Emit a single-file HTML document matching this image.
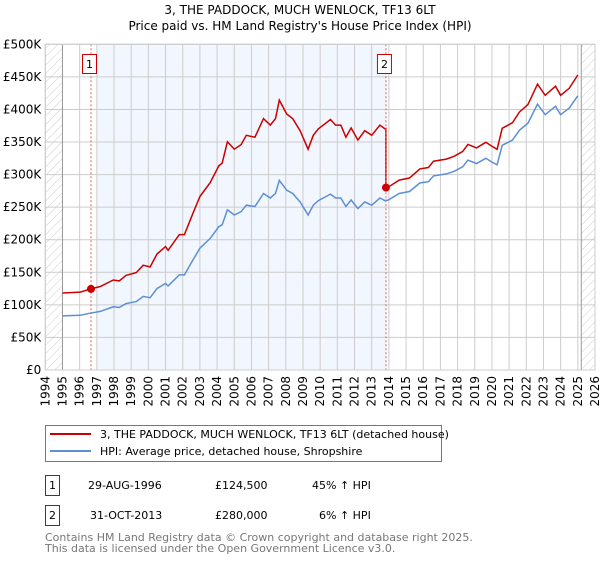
<!DOCTYPE html>
<html><head><meta charset="utf-8"><style>
body{margin:0;background:#fff;font-family:"DejaVu Sans","Liberation Sans",sans-serif;}
svg text{font-family:"DejaVu Sans","Liberation Sans",sans-serif;}
</style></head><body>
<svg id="c" width="600" height="560" xmlns="http://www.w3.org/2000/svg">
<defs><pattern id="hatch" width="6" height="6" patternUnits="userSpaceOnUse" patternTransform="rotate(45)"><line x1="0" y1="0" x2="0" y2="6" stroke="#ccc" stroke-width="1"/></pattern></defs>
<text x="300" y="14" text-anchor="middle" font-size="12">3, THE PADDOCK, MUCH WENLOCK, TF13 6LT</text>
<text x="300" y="30" text-anchor="middle" font-size="12">Price paid vs. HM Land Registry's House Price Index (HPI)</text>
<g id="plot"></g>
<g>
<rect x="45.5" y="425.5" width="396" height="36" fill="#fff" stroke="#777"/>
<line x1="50" y1="434" x2="91" y2="434" stroke="#cc0000" stroke-width="2"/>
<text x="100" y="438" font-size="11">3, THE PADDOCK, MUCH WENLOCK, TF13 6LT (detached house)</text>
<line x1="50" y1="451" x2="91" y2="451" stroke="#5b8fd4" stroke-width="2"/>
<text x="100" y="455" font-size="11">HPI: Average price, detached house, Shropshire</text>
</g>
<g font-size="11">
<rect x="45.5" y="475.5" width="14" height="20" fill="#fff" stroke="#cc0000"/>
<text x="52.5" y="489" text-anchor="middle">1</text>
<text x="88" y="489">29-AUG-1996</text>
<text x="215" y="489">£124,500</text>
<text x="312" y="489">45% ↑ HPI</text>
<rect x="45.5" y="505.5" width="14" height="20" fill="#fff" stroke="#cc0000"/>
<text x="52.5" y="519" text-anchor="middle">2</text>
<text x="90" y="519">31-OCT-2013</text>
<text x="215" y="519">£280,000</text>
<text x="319" y="519">6% ↑ HPI</text>
</g>
<text x="45" y="541" font-size="11" fill="#777">Contains HM Land Registry data © Crown copyright and database right 2025.</text>
<text x="45" y="552" font-size="11" fill="#777">This data is licensed under the Open Government Licence v3.0.</text>
</svg>
<script>
const hpiYears=[1995.0,1996.03,1996.57,1997.2,1997.96,1998.3,1998.7,1999.3,1999.7,2000.1,2000.5,2001.0,2001.15,2001.8,2002.1,2002.6,2003.0,2003.6,2004.1,2004.3,2004.6,2005.0,2005.4,2005.7,2006.2,2006.7,2007.1,2007.4,2007.62,2008.05,2008.4,2008.83,2009.3,2009.6,2009.9,2010.6,2010.9,2011.2,2011.5,2011.8,2012.2,2012.6,2013.0,2013.48,2013.77,2013.97,2014.6,2015.2,2015.8,2016.3,2016.6,2017.35,2017.8,2018.3,2018.6,2019.1,2019.65,2019.95,2020.3,2020.6,2021.2,2021.6,2022.1,2022.65,2023.1,2023.7,2024.0,2024.5,2025.0];
const hpiValues=[83,84,87,90,97,96,102,105,113,111,125,133,129,146,146,169,187,202,220,223,246,238,243,253,251,271,264,271,291,276,271,258,238,253,260,270,264,264,251,261,248,258,253,264,260,261,271,274,287,289,298,301,305,312,322,317,325,320,315,345,353,368,379,408,392,405,392,402,421];
const saleYears=[1996.66,2013.83];
const salePrices=[124500,280000];
const saleLabels=["1","2"];
const yTicks=[0,50000,100000,150000,200000,250000,300000,350000,400000,450000,500000];
const yTickLabels=["£0","£50K","£100K","£150K","£200K","£250K","£300K","£350K","£400K","£450K","£500K"];
const xTicks=[];for(let y=1994;y<=2026;y++)xTicks.push(y);

const X0=45.3,X1=595,Y0=370,Y1=44.3;
const xs=y=>X0+(y-1994)/32*(X1-X0);
const ys=v=>Y0-v/500000*(Y0-Y1);
const NS="http://www.w3.org/2000/svg";
const g=document.getElementById('plot');
function mk(t,a){const e=document.createElementNS(NS,t);for(const k in a)e.setAttribute(k,a[k]);g.appendChild(e);return e;}
function hpiAt(y){for(let i=0;i<hpiYears.length-1;i++){if(y>=hpiYears[i]&&y<=hpiYears[i+1]){const t=(y-hpiYears[i])/(hpiYears[i+1]-hpiYears[i]);return (hpiValues[i]+t*(hpiValues[i+1]-hpiValues[i]))*1000;}}return hpiValues[hpiValues.length-1]*1000;}

let e=mk('rect',{x:X0,y:Y1,width:X1-X0,height:Y0-Y1,fill:'#fff'});


e=mk('rect',{x:xs(1997),y:Y1,width:xs(saleYears[1])-xs(1997),height:Y0-Y1,fill:'#f2f6fe'});


e=mk('rect',{x:X0,y:Y1,width:xs(1995)-X0,height:Y0-Y1,fill:'url(#hatch)'});


e=mk('rect',{x:xs(2025.2),y:Y1,width:X1-xs(2025.2),height:Y0-Y1,fill:'url(#hatch)'});


yTicks.forEach((v,i)=>{
 let l=mk('line',{x1:X0,x2:X1,y1:ys(v),y2:ys(v),stroke:'#ccc'});
 
 
 let t=mk('text',{x:X0-4,y:ys(v)+4,'text-anchor':'end','font-size':'12'});t.textContent=yTickLabels[i];
 
 
});
xTicks.forEach(y=>{
 let l=mk('line',{x1:xs(y),x2:xs(y),y1:Y1,y2:Y0,stroke:'#ccc'});
 
 
 let t=mk('text',{x:0,y:0,'font-size':'12','text-anchor':'end',transform:`translate(${xs(y)+4},${Y0+6}) rotate(-90)`});t.textContent=y;
 
 
});
e=mk('line',{x1:xs(1995),x2:xs(1995),y1:Y1,y2:Y0,stroke:'#999'});


e=mk('line',{x1:xs(2025.2),x2:xs(2025.2),y1:Y1,y2:Y0,stroke:'#999'});


// HPI line
let d=hpiYears.map((y,i)=>(i?'L':'M')+xs(y).toFixed(1)+','+ys(hpiValues[i]*1000).toFixed(1)).join('');
e=mk('path',{d:d,fill:'none',stroke:'#5b8fd4','stroke-width':1.5});


// property line: scaled HPI from each sale
const s1=salePrices[0]/hpiAt(saleYears[0]),s2=salePrices[1]/hpiAt(saleYears[1]);
let pts=[];
pts.push([1995,hpiValues[0]*1000*s1]);
hpiYears.forEach((y,i)=>{if(y<saleYears[1])pts.push([y,hpiValues[i]*1000*s1]);});
pts.push([saleYears[1],hpiAt(saleYears[1])*s1]);
pts.push([saleYears[1],salePrices[1]]);
hpiYears.forEach((y,i)=>{if(y>saleYears[1])pts.push([y,hpiValues[i]*1000*s2]);});
d=pts.map((p,i)=>(i?'L':'M')+xs(p[0]).toFixed(1)+','+ys(p[1]).toFixed(1)).join('');
e=mk('path',{d:d,fill:'none',stroke:'#cc0000','stroke-width':1.5});


saleYears.forEach((y,i)=>{
 let l=mk('line',{x1:xs(y),x2:xs(y),y1:Y1,y2:Y0,stroke:'#e06060','stroke-dasharray':'2,2'});
 
 
 let c=mk('circle',{cx:xs(y),cy:ys(salePrices[i]),r:4,fill:'#cc0000'});
 
 
 let r=mk('rect',{x:xs(y)-8.5,y:54.5,width:14,height:19,fill:'#fff',stroke:'#cc0000'});
 
 
 let t=mk('text',{x:xs(y)-1.5,y:68,'text-anchor':'middle','font-size':'11'});t.textContent=saleLabels[i];
 
 
});
e=mk('rect',{x:X0,y:Y1,width:X1-X0,height:Y0-Y1,fill:'none',stroke:'#ccc'});


</script>
</body></html>
